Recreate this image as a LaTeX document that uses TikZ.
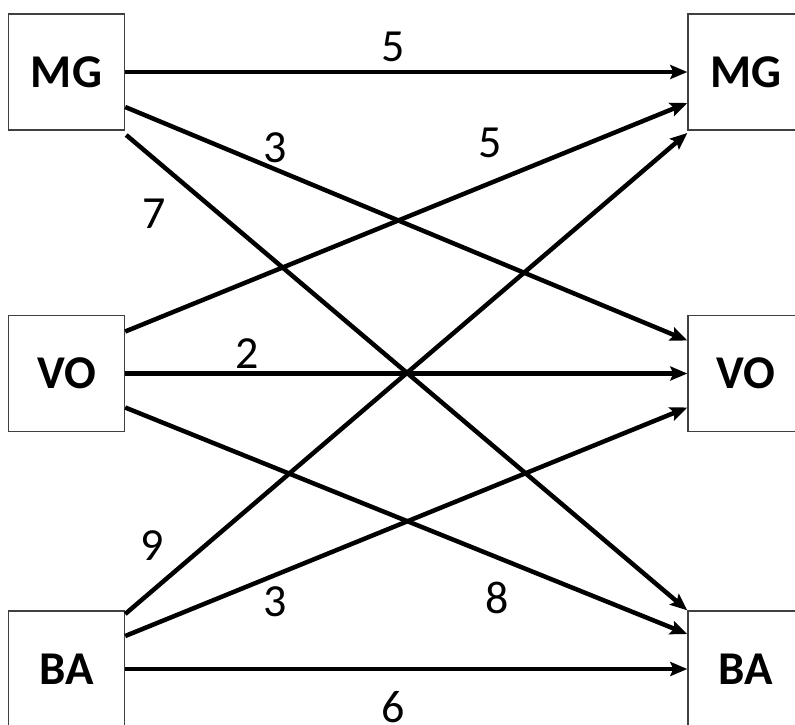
\documentclass[tikz,border=0pt]{standalone}
\usepackage{fontspec}
\setmainfont{Carlito}
\usetikzlibrary{arrows.meta}
\tikzset{
  box/.style={draw=black!75,line width=1.4pt,minimum width=116pt,minimum height=116pt,inner sep=0pt,font=\fontsize{47}{50}\selectfont\bfseries},
  flow/.style={line width=4.5pt,-{Stealth[length=17pt,width=14pt,inset=3pt]}},
  num/.style={font=\fontsize{46}{50}\selectfont}
}
\begin{document}
\begin{tikzpicture}[x=1pt,y=-1pt]
\useasboundingbox (0,0) rectangle (795,724);
\node[box] (mgl) at (66.5,72) {MG};
\node[box] (vol) at (66.5,373.5) {VO};
\node[box] (bal) at (66.5,669) {BA};
\node[box] (mgr) at (746,72) {MG};
\node[box] (vor) at (746,373.5) {VO};
\node[box] (bar) at (746,669) {BA};
% from MG
\draw[flow] (mgl.east)--(mgr.west);
\draw[flow] ([yshift=-35pt]mgl.east)--([yshift=33pt]vor.west);
\draw[flow] ([shift={(1pt,-63pt)}]mgl.east)--(bar.north west);
% from VO
\draw[flow] ([yshift=42pt]vol.east)--([yshift=-31pt]mgr.west);
\draw[flow] (vol.east)--(vor.west);
\draw[flow] ([yshift=-34pt]vol.east)--([yshift=35pt]bar.west);
% from BA
\draw[flow] ([yshift=55pt]bal.east)--([yshift=-61pt]mgr.west);
\draw[flow] ([yshift=33pt]bal.east)--([yshift=-34pt]vor.west);
\draw[flow] (bal.east)--(bar.west);
\node[num] (w1) at (393,47) {5};
\node[num] (w2) at (275,148) {3};
\node[num] (w3) at (154,214) {7};
\node[num] (w4) at (490,143) {5};
\node[num] (w5) at (247,354) {2};
\node[num] (w6) at (497,598) {8};
\node[num] (w7) at (152,546) {9};
\node[num] (w8) at (275,602) {3};
\node[num] (w9) at (393,707) {6};
\end{tikzpicture}
\end{document}
